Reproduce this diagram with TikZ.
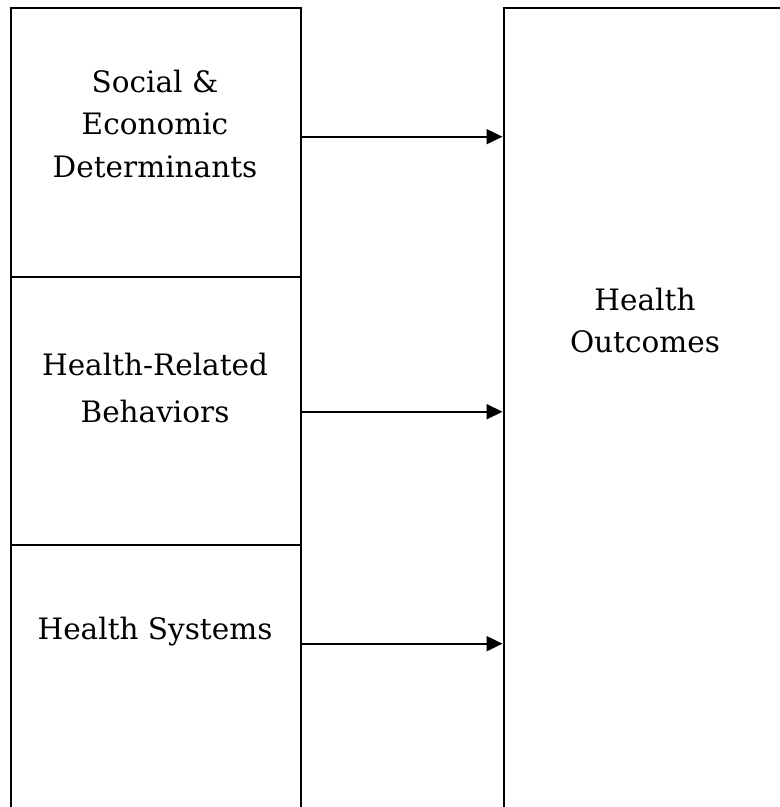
\documentclass[tikz,border=0pt]{standalone}
\usepackage{fontspec}
\setmainfont{DejaVu Serif}
\usetikzlibrary{arrows.meta}
\tikzset{
  block/.style={draw, line width=2pt, rectangle, anchor=north west, inner sep=0pt, minimum width=#1},
  block/.default=289.5pt,
  lbl/.style={align=center, anchor=north, inner sep=0pt, font=\fontsize{29.5}{42.5}\selectfont},
  flow/.style={-{Triangle[length=16pt 0,width=15pt 0]}, line width=2pt}
}
\begin{document}
\begin{tikzpicture}[x=1pt,y=1pt]
\useasboundingbox (0,0) rectangle (780,807);
\clip (0,0) rectangle (780,807);
\node[block, minimum height=268.2pt] (sed) at (10,799.5) {};
\node[block, minimum height=268.3pt] (hrb) at (10,531.3) {};
\node[block, minimum height=283pt] (hsys) at (10,263) {};
\node[block=290pt, minimum height=830pt] (out) at (502.5,799.5) {};
\node[lbl] (sedtxt) at (155,737.4) {Social \&\\ Economic\\ Determinants};
\node[lbl, font=\fontsize{29.5}{47}\selectfont] (hrbtxt) at (155,454.4) {Health-Related\\ Behaviors};
\node[lbl] (hsystxt) at (155,190.4) {Health Systems};
\node[lbl] (outtxt) at (645,519.4) {Health\\ Outcomes};
\draw[flow] ([yshift=5.9pt]sed.east) -- ([yshift=5.9pt]sed.east -| out.west);
\draw[flow] ([yshift=-0.9pt]hrb.east) -- ([yshift=-0.9pt]hrb.east -| out.west);
\draw[flow] ([yshift=42.8pt]hsys.east) -- ([yshift=42.8pt]hsys.east -| out.west);
\end{tikzpicture}
\end{document}
